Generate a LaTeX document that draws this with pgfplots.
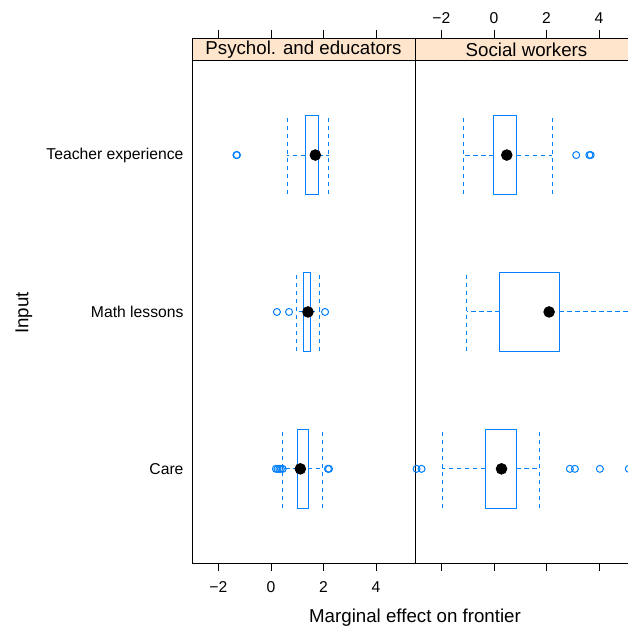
\documentclass[border=0pt]{standalone}
\usepackage{pgfplots}
\pgfplotsset{compat=1.18}
\usepgfplotslibrary{statistics}
\usepackage{fontspec}
\setmainfont{Liberation Sans}
\definecolor{bw}{HTML}{0080FF}
\definecolor{stripc}{HTML}{FFE5CC}
\newcommand{\bigf}{\fontsize{18.7}{22}\selectfont}
\pgfplotsset{
  panel/.style={
    scale only axis, width=223pt, height=525pt,
    xmin=-3, xmax=5.48, ymin=0.4, ymax=3.746,
    xtick={-2,0,2,4}, xticklabels={−2,0,2,4},
    tick align=outside, major tick length=8pt,
    xtick style={black, line width=0.6pt},
    ytick style={draw=none},
    axis line style={line width=0.8pt},
    axis on top,
    ytick={1,2,3},
    xtick pos=both,
    yticklabel shift=-3pt,
    tick label style={font=\fontsize{15.7}{18}\selectfont},
    boxplot/draw direction=x,
    boxplot/box extend=0.5,
    boxplot/whisker extend=0.5,
    boxplot/every whisker/.style={dash pattern=on 4.5pt off 3.5pt},
    boxplot/draw/median/.code={\fill[black] (boxplot box cs:\pgfplotsboxplotvalue{median},0.5) circle[radius=5.3pt];},
    every axis plot/.append style={color=bw, line width=0.9pt, mark=o, mark size=3.5pt, mark options={solid, line width=1pt}},
  },
}
\begin{document}
\begin{tikzpicture}
% left panel
\begin{axis}[panel, at={(192pt,71pt)}, anchor=south west,
  xticklabel pos=bottom, xticklabel shift=7pt,
  yticklabels={Care, Math lessons, Teacher experience}]
\fill[stripc] (axis cs:-3,3.6) rectangle (axis cs:5.48,3.746);
\draw[black, line width=0.8pt] (axis cs:-3,3.6) -- (axis cs:5.48,3.6);
\node[font=\bigf] at (axis cs:1.24,3.673) {Psychol. and educators};
\addplot[boxplot prepared={draw position=3, lower whisker=0.62, lower quartile=1.31, median=1.69, upper quartile=1.80, upper whisker=2.20}]
  table[row sep=\\, y index=0] {v\\ -1.31\\ -1.29\\};
\addplot[boxplot prepared={draw position=2, lower whisker=0.97, lower quartile=1.23, median=1.41, upper quartile=1.52, upper whisker=1.85}]
  table[row sep=\\, y index=0] {v\\ 0.23\\ 0.69\\ 2.06\\};
\addplot[boxplot prepared={draw position=1, lower whisker=0.44, lower quartile=1.02, median=1.12, upper quartile=1.41, upper whisker=1.97}]
  table[row sep=\\, y index=0] {v\\ 0.19\\ 0.25\\ 0.32\\ 0.38\\ 0.45\\ 2.17\\ 2.21\\};
\end{axis}
% right panel
\begin{axis}[panel, at={(415pt,71pt)}, anchor=south west,
  xticklabel pos=top, xticklabel shift=3pt,
  yticklabels={}]
\fill[stripc] (axis cs:-3,3.6) rectangle (axis cs:5.48,3.746);
\draw[black, line width=0.8pt] (axis cs:-3,3.6) -- (axis cs:5.48,3.6);
\node[font=\bigf] at (axis cs:1.24,3.673) {Social workers};
\addplot[boxplot prepared={draw position=3, lower whisker=-1.14, lower quartile=-0.01, median=0.49, upper quartile=0.87, upper whisker=2.22}]
  table[row sep=\\, y index=0] {v\\ 3.13\\ 3.63\\ 3.68\\};
\addplot[boxplot prepared={draw position=2, lower whisker=-1.03, lower quartile=0.22, median=2.10, upper quartile=2.48, upper whisker=5.3}]
  coordinates {};
\addplot[boxplot prepared={draw position=1, lower whisker=-1.97, lower quartile=-0.33, median=0.29, upper quartile=0.85, upper whisker=1.72}]
  table[row sep=\\, y index=0] {v\\ -2.94\\ -2.75\\ 2.89\\ 3.08\\ 4.03\\ 5.13\\};
\end{axis}
\node[font=\bigf, rotate=90] at (24pt,321pt) {Input};
\node[font=\bigf] at (415pt,16pt) {Marginal effect on frontier};
\pgfresetboundingbox
\path[use as bounding box] (0,0) rectangle (628pt,634pt);
\end{tikzpicture}
\end{document}
